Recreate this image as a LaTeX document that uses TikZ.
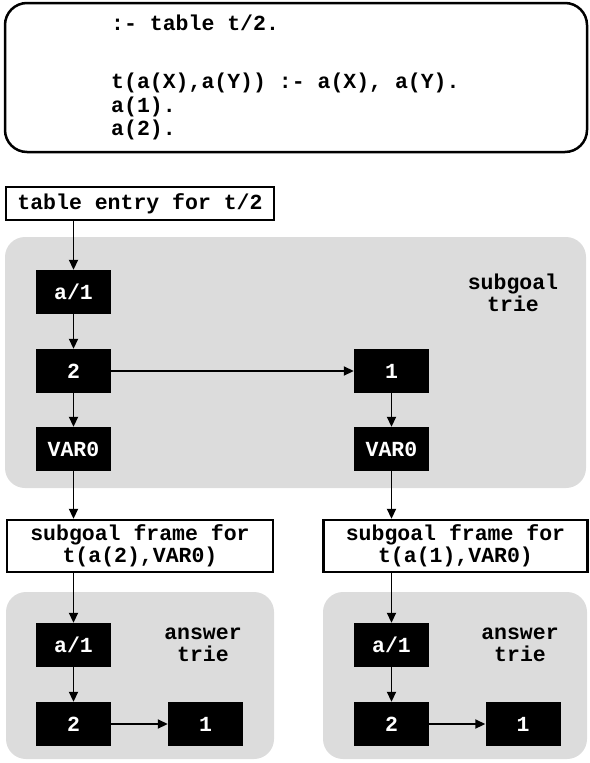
\documentclass[tikz,border=0pt]{standalone}
\usepackage{fontspec}
\setmonofont{Liberation Mono}
\usetikzlibrary{arrows.meta,positioning,calc}
\definecolor{triegray}{HTML}{DCDCDC}

\begin{document}
\begin{tikzpicture}[x=1pt,y=-1pt,>={Triangle[length=10pt,width=9pt]},
 font=\fontsize{21.5}{22}\ttfamily\bfseries,
 cell/.style={fill=black,text=white,minimum width=75,minimum height=44,inner sep=0pt},
 framebox/.style={draw,line width=2.4pt,fill=white,align=center,inner sep=0pt},
 lbl/.style={align=center,inner sep=0pt},
 trie/.style={fill=triegray,rounded corners=20pt},
 link/.style={->,line width=1.8pt}]
\useasboundingbox (0,0) rectangle (589,763);
% program
\draw[line width=2.5pt,rounded corners=22pt] (5,3) rectangle (587,152);
\node[anchor=north west,align=left,inner sep=0pt,
 font=\fontsize{21.5}{23.5}\ttfamily\bfseries] (prog) at (111,15)
 {:- table t/2.\\[34.5pt]t(a(X),a(Y)) :- a(X), a(Y).\\a(1).\\a(2).};
% subgoal trie
\fill[trie] (5,237) rectangle (586,488);
\node[framebox,minimum width=268,minimum height=33] (entry) at (140,203.5) {table entry for t/2};
\node[lbl] (stlabel) at (513,293) {subgoal\\trie};
\node[cell] (sa1) at (73.5,292) {a/1};
\node[cell] (s2) at (73.5,371) {2};
\node[cell] (s1) at (391.5,371) {1};
\node[cell] (sv2) at (73.5,449) {VAR0};
\node[cell] (sv1) at (391.5,449) {VAR0};
% answer tries
\fill[trie] (6,592) rectangle (274,759);
\fill[trie] (323,592) rectangle (587,759);
\node[framebox,minimum width=266,minimum height=52] (frame2) at (140,546) {subgoal frame for\\t(a(2),VAR0)};
\node[framebox,minimum width=264,minimum height=52] (frame1) at (455.5,546) {subgoal frame for\\t(a(1),VAR0)};
\node[lbl] (atlabel2) at (203,645) {answer\\trie};
\node[lbl] (atlabel1) at (520,645) {answer\\trie};
\node[cell] (la1) at (73.5,645) {a/1};
\node[cell] (l2) at (73.5,724) {2};
\node[cell] (l1) at (205.5,724) {1};
\node[cell] (ra1) at (391.5,645) {a/1};
\node[cell] (r2) at (391.5,724) {2};
\node[cell] (r1) at (523,724) {1};
\draw[link] (entry.south -| sa1.north) -- (sa1);
\draw[link] (sa1) -- (s2);
\draw[link] (s2) -- (s1);
\draw[link] (s2) -- (sv2);
\draw[link] (s1) -- (sv1);
\draw[link] (sv2) -- (sv2 |- frame2.north);
\draw[link] (sv1) -- (sv1 |- frame1.north);
\draw[link] (frame2.south -| la1.north) -- (la1);
\draw[link] (frame1.south -| ra1.north) -- (ra1);
\draw[link] (la1) -- (l2);
\draw[link] (l2) -- (l1);
\draw[link] (ra1) -- (r2);
\draw[link] (r2) -- (r1);
\end{tikzpicture}
\end{document}
